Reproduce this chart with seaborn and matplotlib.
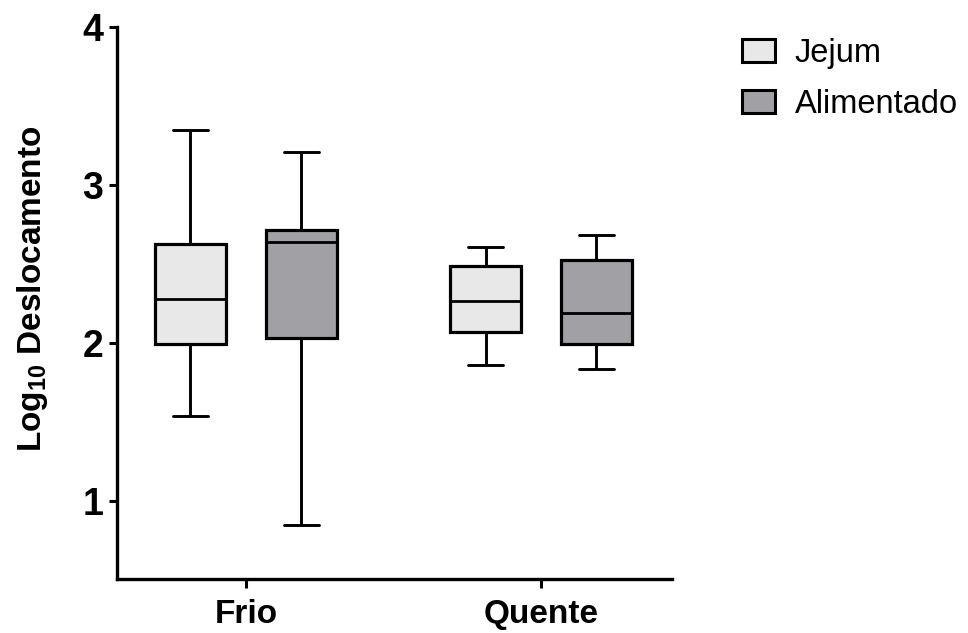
import numpy as np
import pandas as pd
import matplotlib
matplotlib.use("Agg")
import matplotlib.pyplot as plt
import seaborn as sns

# ---- data (five-number summaries) ----
groups = ["Frio", "Frio", "Quente", "Quente"]
conditions = ["Jejum", "Alimentado", "Jejum", "Alimentado"]
mins    = [1.54, 0.85, 1.865, 1.84]
q1s     = [1.995, 2.03, 2.07, 1.995]
medians = [2.28, 2.64, 2.265, 2.19]
q3s     = [2.63, 2.715, 2.485, 2.525]
maxs    = [3.35, 3.21, 2.61, 2.685]

group_order = ["Frio", "Quente"]
hue_order = ["Jejum", "Alimentado"]
colors = {"Jejum": "#E8E8E8", "Alimentado": "#A1A1A5"}
y_ticks = [1, 2, 3, 4]

rows = []
for g, c, a, b, m, d, e in zip(groups, conditions, mins, q1s, medians, q3s, maxs):
    for v in (a, b, m, d, e):
        rows.append({"grupo": g, "condicao": c, "valor": v})
df = pd.DataFrame(rows)

sns.set_theme(style="ticks")
plt.rcParams["font.family"] = ["Liberation Sans", "DejaVu Sans"]
plt.rcParams["text.color"] = "black"
plt.rcParams["axes.labelcolor"] = "black"
plt.rcParams["mathtext.fontset"] = "custom"
plt.rcParams["mathtext.rm"] = "Liberation Sans:bold"
plt.rcParams["mathtext.bf"] = "Liberation Sans:bold"
plt.rcParams["mathtext.it"] = "Liberation Sans:bold"

fig = plt.figure(figsize=(9.68, 6.33), dpi=100)
ax = fig.add_axes([117 / 968, 1 - 579 / 633, (672 - 117) / 968, (579 - 26.7) / 633])

lw = 2.3
sns.boxplot(
    data=df, x="grupo", y="valor", hue="condicao",
    order=group_order, hue_order=hue_order, palette=colors,
    whis=(0, 100), width=0.752, gap=0.36, linewidth=lw, linecolor="black",
    showfliers=False, ax=ax,
    medianprops={"linewidth": 2.0, "color": "black"},
    whiskerprops={"linewidth": 2.1, "color": "black"},
    capprops={"linewidth": 2.1, "color": "black"},
)

ax.set_xlim(-0.437, 1.444)
ax.set_ylim(0.51, 4.0)
ax.set_yticks(y_ticks)
ax.set_yticklabels([str(t) for t in y_ticks], fontsize=27, fontweight="bold")
for lab in ax.get_xticklabels():
    lab.set_fontsize(24)
    lab.set_fontweight("bold")
ax.set_xlabel("")
ax.set_ylabel(r"Log$_{\mathbf{10}}$ Deslocamento", fontsize=24, fontweight="bold",
              color="black")
ax.yaxis.set_label_coords(-0.121, 0.525)

for side in ("top", "right"):
    ax.spines[side].set_visible(False)
for side in ("left", "bottom"):
    ax.spines[side].set_linewidth(2.4)
    ax.spines[side].set_color("black")
ax.tick_params(axis="y", length=6, width=2.2, pad=4, colors="black")
ax.tick_params(axis="x", length=6.5, width=2.2, pad=8, colors="black")

handles, labels = ax.get_legend_handles_labels()
for h in handles:
    h.set_edgecolor("black")
    h.set_linewidth(2.2)
leg = ax.legend(
    handles, labels, loc="upper left",
    bbox_to_anchor=(742 / 968, 1 - 38 / 633), bbox_transform=fig.transFigure,
    frameon=False, fontsize=23.5, handlelength=1.0, handleheight=0.7,
    handletextpad=0.62, labelspacing=0.62, borderpad=0, borderaxespad=0,
)
for t in leg.get_texts():
    t.set_color("black")

fig.savefig("out.png", dpi=100)
